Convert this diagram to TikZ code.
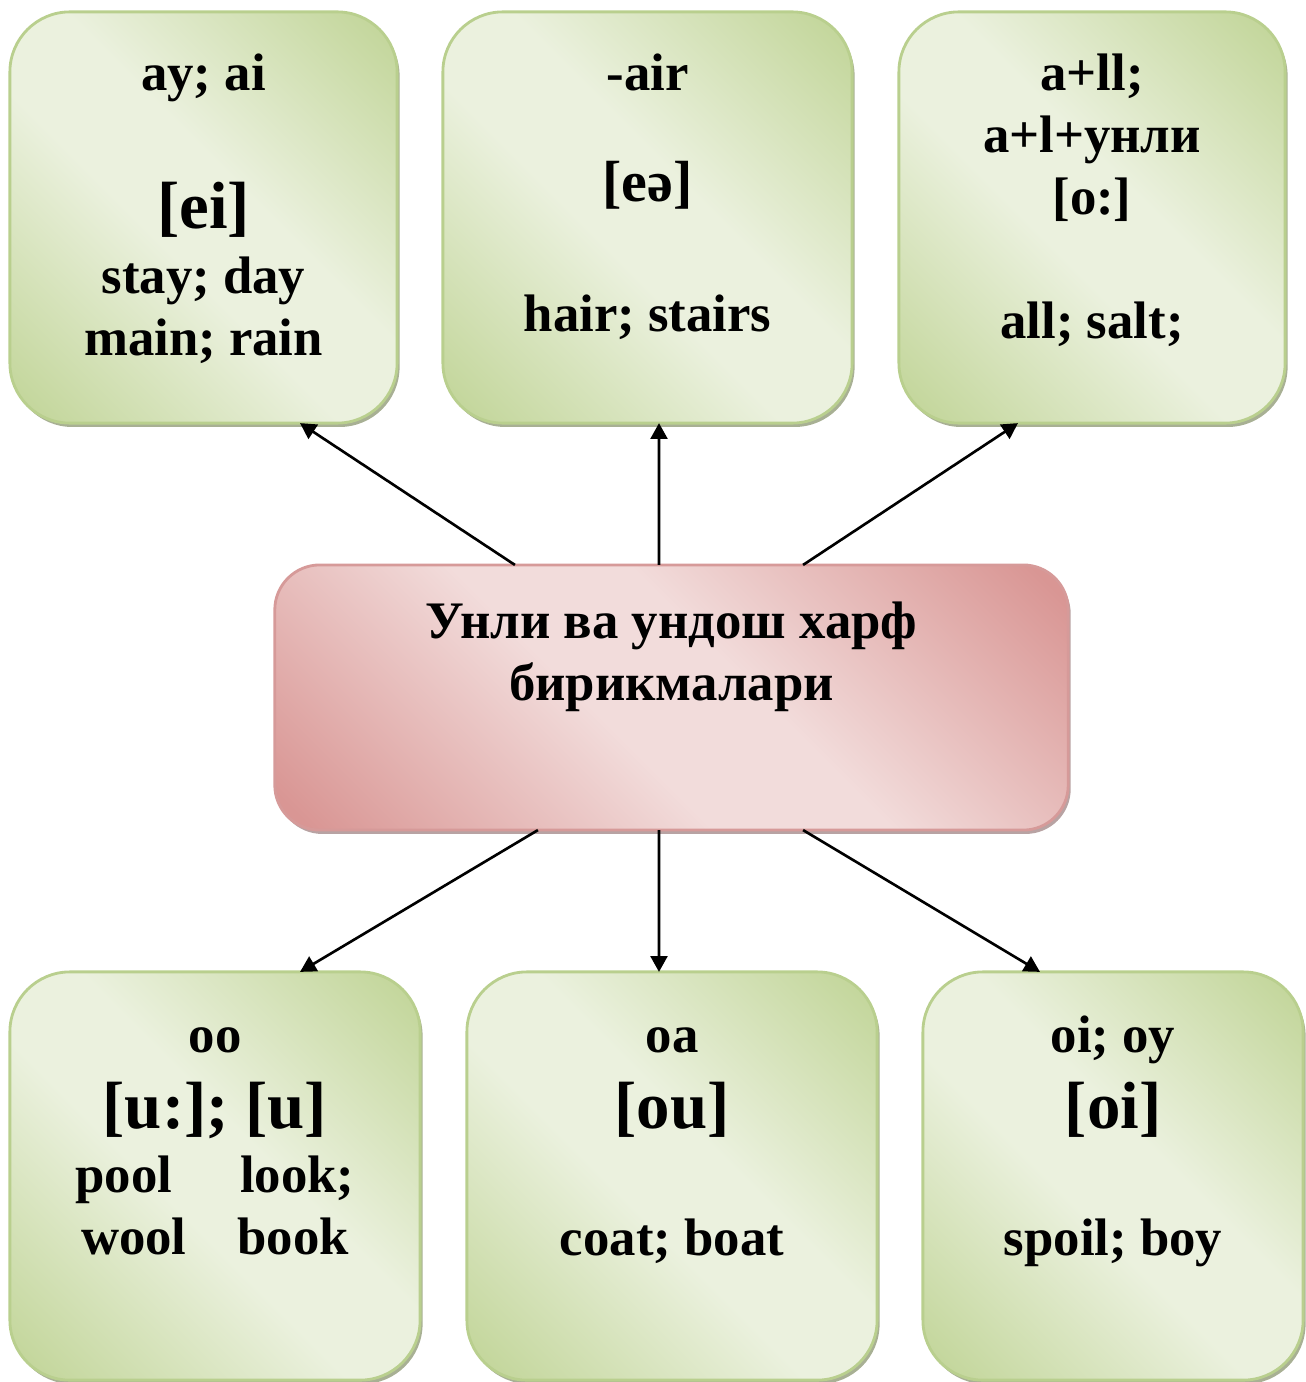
\documentclass[tikz,border=0pt]{standalone}
\usepackage{fontspec}
\setmainfont{Liberation Serif}
\usetikzlibrary{positioning, arrows.meta, shadows}

\definecolor{gdark}{HTML}{C3D69B}
\definecolor{glight}{HTML}{EBF1DE}
\definecolor{gline}{HTML}{B9CF8E}
\definecolor{gshadow}{HTML}{A8B094}
\definecolor{pdark}{HTML}{D99694}
\definecolor{plight}{HTML}{F2DCDB}
\definecolor{pline}{HTML}{D69A99}
\definecolor{pshadow}{HTML}{B8A3A3}

% diagonal glow: dark corners, light band along the diagonal
\pgfdeclarehorizontalshading{greenglow}{100bp}{color(0bp)=(gdark); color(17bp)=(gdark);
  color(44bp)=(glight); color(56bp)=(glight); color(83bp)=(gdark); color(100bp)=(gdark)}
\pgfdeclarehorizontalshading{pinkglow}{100bp}{color(0bp)=(pdark); color(17bp)=(pdark);
  color(44bp)=(plight); color(56bp)=(plight); color(83bp)=(pdark); color(100bp)=(pdark)}

\newcommand{\ipabig}[1]{{\fontsize{19}{22}\selectfont #1}}
\newcommand{\flatskip}{\setlength{\lineskiplimit}{-100pt}}

\tikzset{
  soundbox/.style={draw=gline, line width=0.8pt, rounded corners=0.6cm,
    shading=greenglow, shading angle=45, inner sep=0pt, outer sep=0pt,
    drop shadow={shadow xshift=0.7pt, shadow yshift=-1.1pt, fill=gshadow, opacity=1}},
  hubbox/.style={draw=pline, line width=0.8pt, rounded corners=0.45cm,
    shading=pinkglow, shading angle=45, inner sep=0pt, outer sep=0pt,
    minimum width=7.93cm, minimum height=2.65cm,
    drop shadow={shadow xshift=0.7pt, shadow yshift=-1.1pt, fill=pshadow, opacity=1}},
  lines/.style={align=center, anchor=north, inner sep=0pt,
    font=\fontsize{15}{17.64}\selectfont\bfseries\flatskip},
  link/.style={-{Triangle[length=4.5pt, width=4.8pt]}, line width=0.75pt},
}

\begin{document}
\begin{tikzpicture}[x=0.01cm, y=-0.01cm]
  \useasboundingbox (0,0) rectangle (1305,1382);

  % combinations around the hub
  \node[hubbox] (hub) at (671.5,697.5) {};
  \node[soundbox, minimum width=3.87cm, minimum height=4.11cm] (ayai) at (203.5,217.5) {};
  \node[soundbox, minimum width=4.09cm, minimum height=4.11cm] (air) at (647.5,217.5) {};
  \node[soundbox, minimum width=3.86cm, minimum height=4.11cm] (all) at (1092,217.5) {};
  \node[soundbox, minimum width=4.10cm, minimum height=4.08cm] (oo) at (215,1176) {};
  \node[soundbox, minimum width=4.10cm, minimum height=4.08cm] (oa) at (672,1176) {};
  \node[soundbox, minimum width=3.80cm, minimum height=4.08cm] (oioy) at (1113,1176) {};

  \node[lines] (hubtext) at ([yshift=-0.296cm]hub.north)
    {\strut Унли ва ундош харф\\ бирикмалари};
  \node[lines] (ayaitext) at ([yshift=-0.346cm]ayai.north)
    {\strut ay; ai\\[21.63pt] \ipabig{[ei]}\\[0.85pt] stay; day\\ main; rain};
  \node[lines] (airtext) at ([yshift=-0.346cm]air.north)
    {\strut -air\\[13.94pt] {\fontsize{16.5}{19}\selectfont [eə]}\\[19.35pt] hair; stairs};
  \node[lines] (alltext) at ([yshift=-0.346cm]all.north)
    {\strut a+ll;\\ a+l+унли\\ {[o:]}\\[17.64pt] all; salt;};
  \node[lines] (ootext) at ([yshift=-0.366cm]oo.north)
    {\strut oo\\[3.98pt] \ipabig{[u:]; [u]}\\[0.57pt] pool\hspace{19.3pt}look;\\ wool\hspace{14.5pt}book};
  \node[lines] (oatext) at ([yshift=-0.366cm]oa.north)
    {\strut oa\\[3.98pt] \ipabig{[ou]}\\[18.5pt] coat; boat};
  \node[lines] (oioytext) at ([yshift=-0.366cm]oioy.north)
    {\strut oi; oy\\[3.98pt] \ipabig{[oi]}\\[18.5pt] spoil; boy};

  % links
  \draw[link] ([xshift=-1.565cm]hub.north) -- ([xshift=0.965cm]ayai.south);
  \draw[link] ([xshift=-0.125cm]hub.north) -- ([xshift=0.115cm]air.south);
  \draw[link] ([xshift=1.315cm]hub.north) -- ([xshift=-0.74cm]all.south);
  \draw[link] ([xshift=-1.335cm]hub.south) -- ([xshift=0.85cm]oo.north);
  \draw[link] ([xshift=-0.125cm]hub.south) -- ([xshift=-0.13cm]oa.north);
  \draw[link] ([xshift=1.315cm]hub.south) -- ([xshift=-0.73cm]oioy.north);
\end{tikzpicture}
\end{document}
